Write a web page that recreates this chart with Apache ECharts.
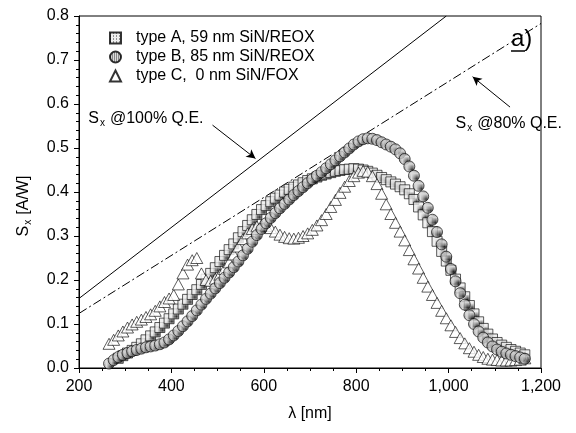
<!DOCTYPE html>
<html>
<head>
<meta charset="utf-8">
<script src="https://cdn.jsdelivr.net/npm/echarts@6/dist/echarts.min.js"></script>
<style>
  html, body { margin: 0; padding: 0; background: #fff; }
  #chart { width: 576px; height: 433px; }
</style>
</head>
<body>
<div id="chart"></div>
<script>
// wavelength [nm], responsivity S_x [A/W]
const typeA = [
  [285,0.022],[295,0.028],[305,0.034],[315,0.040],[325,0.047],[335,0.055],[345,0.064],[355,0.073],
  [365,0.082],[375,0.092],[385,0.102],[395,0.112],[405,0.123],[415,0.134],[425,0.145],[435,0.156],
  [445,0.167],[455,0.178],[465,0.190],[475,0.202],[485,0.215],[495,0.228],[505,0.242],[515,0.256],
  [525,0.269],[535,0.282],[545,0.296],[555,0.310],[565,0.324],[575,0.337],[585,0.349],[595,0.360],
  [605,0.369],[615,0.378],[625,0.386],[635,0.393],[645,0.400],[655,0.406],[665,0.411],[675,0.416],
  [685,0.421],[695,0.426],[705,0.430],[715,0.434],[725,0.438],[735,0.441],[745,0.444],[755,0.447],
  [765,0.449],[775,0.451],[785,0.452],[795,0.453],[805,0.452],[815,0.450],[825,0.447],[835,0.443],
  [845,0.438],[855,0.433],[865,0.428],[875,0.423],[885,0.418],[895,0.412],[905,0.405],[915,0.396],
  [925,0.383],[935,0.366],[945,0.348],[955,0.330],[965,0.310],[975,0.288],[985,0.265],[995,0.243],
  [1005,0.222],[1015,0.202],[1025,0.182],[1035,0.162],[1045,0.142],[1055,0.123],[1065,0.105],[1075,0.090],
  [1085,0.077],[1095,0.066],[1105,0.058],[1115,0.052],[1125,0.047],[1135,0.042],[1145,0.038],[1155,0.034],
  [1165,0.030]
];
const typeB = [
  [265,0.010],[275,0.018],[285,0.025],[295,0.030],[305,0.034],[315,0.038],[325,0.041],[335,0.044],
  [345,0.047],[355,0.049],[365,0.051],[375,0.054],[385,0.058],[395,0.065],[405,0.074],[415,0.084],
  [425,0.095],[435,0.106],[445,0.118],[455,0.131],[465,0.144],[475,0.157],[485,0.169],[495,0.181],
  [505,0.193],[515,0.205],[525,0.217],[535,0.229],[545,0.242],[555,0.256],[565,0.271],[575,0.287],
  [585,0.302],[595,0.316],[605,0.329],[615,0.341],[625,0.352],[635,0.363],[645,0.373],[655,0.383],
  [665,0.393],[675,0.402],[685,0.411],[695,0.420],[705,0.429],[715,0.437],[725,0.445],[735,0.454],
  [745,0.463],[755,0.472],[765,0.481],[775,0.490],[785,0.499],[795,0.508],[805,0.515],[815,0.520],
  [825,0.522],[835,0.521],[845,0.518],[855,0.513],[865,0.508],[875,0.503],[885,0.497],[895,0.488],
  [905,0.475],[915,0.458],[925,0.437],[935,0.414],[945,0.390],[955,0.364],[965,0.337],[975,0.309],
  [985,0.281],[995,0.253],[1005,0.225],[1015,0.197],[1025,0.170],[1035,0.144],[1045,0.120],[1055,0.100],
  [1065,0.083],[1075,0.069],[1085,0.058],[1095,0.049],[1105,0.042],[1115,0.037],[1125,0.033],[1135,0.030],
  [1145,0.027],[1155,0.024],[1165,0.021]
];
const typeC = [
  [265,0.055],[275,0.064],[285,0.074],[295,0.083],[305,0.092],[315,0.099],[325,0.105],[335,0.110],
  [345,0.116],[355,0.122],[365,0.130],[375,0.140],[385,0.150],[395,0.158],[405,0.166],[415,0.190],
  [425,0.215],[435,0.235],[445,0.245],[455,0.250],[465,0.215],[475,0.200],[485,0.198],[495,0.203],
  [505,0.212],[515,0.225],[525,0.240],[535,0.258],[545,0.276],[555,0.293],[565,0.306],[575,0.316],
  [585,0.322],[595,0.325],[605,0.323],[615,0.318],[625,0.310],[635,0.303],[645,0.298],[655,0.295],
  [665,0.294],[675,0.296],[685,0.300],[695,0.306],[705,0.314],[715,0.324],[725,0.336],[735,0.350],
  [745,0.366],[755,0.382],[765,0.398],[775,0.412],[785,0.425],[795,0.436],[805,0.444],[815,0.448],
  [825,0.446],[835,0.436],[845,0.418],[855,0.396],[865,0.372],[875,0.350],[885,0.330],[895,0.310],
  [905,0.290],[915,0.268],[925,0.247],[935,0.226],[945,0.205],[955,0.185],[965,0.166],[975,0.148],
  [985,0.130],[995,0.113],[1005,0.097],[1015,0.082],[1025,0.068],[1035,0.056],[1045,0.045],[1055,0.037],
  [1065,0.030],[1075,0.025],[1085,0.021],[1095,0.019],[1105,0.018],[1115,0.017],[1125,0.017],[1135,0.017],
  [1145,0.018],[1155,0.019],[1165,0.022]
];
// quantum efficiency reference lines (end points)
const qe100 = [[200,0.158],[995,0.8]];
const qe80 = [[200,0.124],[1200,0.783]];

const legendNames = ['type A, 59 nm SiN/REOX', 'type B, 85 nm SiN/REOX', 'type C,  0 nm SiN/FOX'];
const xTicks = [200, 400, 600, 800, 1000, 1200];

const font = 'Liberation Sans, Arial, sans-serif';

// stipple fills like the printed symbols
function dotPattern(size, bg) {
  const c = document.createElement('canvas');
  c.width = size; c.height = size;
  const g = c.getContext('2d');
  g.fillStyle = bg;
  g.fillRect(0, 0, size, size);
  g.fillStyle = '#000';
  g.fillRect(0, 0, 1, 1);
  return { image: c, repeat: 'repeat' };
}

const richS = {
  s: { fontSize: 16, fontFamily: font, color: '#000' },
  sub: { fontSize: 10, fontFamily: font, color: '#000', verticalAlign: 'bottom', padding: [9, 5, 0, 1] },
  pad: { width: 28 }
};

const chart = echarts.init(document.getElementById('chart'), null, { renderer: 'canvas' });

const option = {
  backgroundColor: '#fff',
  animation: false,
  textStyle: { fontFamily: font, color: '#000' },
  grid: {
    left: 79, right: 35, top: 16, bottom: 65,
    show: true, borderColor: '#000', borderWidth: 1
  },
  legend: {
    orient: 'vertical',
    left: 104, top: 25,
    itemGap: 3,
    itemWidth: 11, itemHeight: 11,
    data: legendNames,
    textStyle: { fontFamily: font, fontSize: 16, color: '#000', padding: [0, 0, 0, 10] },
    selectedMode: false
  },
  xAxis: {
    type: 'value',
    min: 200, max: 1200, interval: 200,
    name: 'λ [nm]',
    nameLocation: 'middle',
    nameGap: 38,
    nameTextStyle: { fontFamily: font, fontSize: 16, color: '#000' },
    axisLine: { lineStyle: { color: '#000', width: 1 } },
    axisTick: { show: true, length: 5, lineStyle: { color: '#000' } },
    minorTick: { show: true, splitNumber: 4, length: 3, lineStyle: { color: '#000' } },
    splitLine: { show: false },
    axisLabel: {
      fontFamily: font, fontSize: 16, color: '#000', margin: 11,
      formatter: v => xTicks.includes(v) ? v.toLocaleString('en-US') : ''
    }
  },
  yAxis: {
    type: 'value',
    min: 0, max: 0.8, interval: 0.1,
    name: '{s|S}{sub|x}{s|[A/W]}{pad|}',
    nameLocation: 'middle',
    nameGap: 46,
    nameRotate: 90,
    nameTextStyle: { fontFamily: font, color: '#000', rich: richS },
    axisLine: { show: true, lineStyle: { color: '#000', width: 1 } },
    axisTick: { show: true, length: 5, lineStyle: { color: '#000' } },
    minorTick: { show: true, splitNumber: 5, length: 3, lineStyle: { color: '#000' } },
    splitLine: { show: false },
    axisLabel: {
      fontFamily: font, fontSize: 16, color: '#000', margin: 10,
      formatter: v => v.toFixed(1)
    }
  },
  series: [
    {
      name: 'S100',
      type: 'line',
      data: qe100,
      symbol: 'none',
      lineStyle: { color: '#000', width: 1 },
      z: 1,
      markLine: {
        silent: true,
        symbol: ['none', 'arrow'],
        symbolSize: [7, 9],
        lineStyle: { color: '#000', width: 1, type: 'solid' },
        label: { show: false },
        data: [[{ coord: [489, 0.552] }, { coord: [582, 0.476] }]]
      },
      markPoint: {
        silent: true,
        symbol: 'rect', symbolSize: 1,
        itemStyle: { color: 'transparent' },
        label: {
          show: true, position: 'right', distance: 0,
          formatter: '{s|S}{sub|x}{s|@100% Q.E.}',
          rich: richS
        },
        data: [{ coord: [219, 0.566] }]
      }
    },
    {
      name: 'S80',
      type: 'line',
      data: qe80,
      symbol: 'none',
      lineStyle: { color: '#000', width: 1, type: [9, 3, 2, 3] },
      z: 1,
      markLine: {
        silent: true,
        symbol: ['none', 'arrow'],
        symbolSize: [7, 9],
        lineStyle: { color: '#000', width: 1, type: 'solid' },
        label: { show: false },
        data: [[{ coord: [1133, 0.593] }, { coord: [1052, 0.662] }]]
      },
      markPoint: {
        silent: true,
        symbol: 'rect', symbolSize: 1,
        itemStyle: { color: 'transparent' },
        label: {
          show: true, position: 'right', distance: 0,
          formatter: '{s|S}{sub|x}{s|@80% Q.E.}',
          rich: richS
        },
        data: [{ coord: [1014, 0.556] }]
      }
    },
    {
      name: legendNames[0],
      type: 'scatter',
      data: typeA,
      symbol: 'rect',
      symbolSize: 10,
      itemStyle: { color: dotPattern(3, '#ececec'), borderColor: '#000', borderWidth: 0.8 },
      z: 2
    },
    {
      name: legendNames[2],
      type: 'scatter',
      data: typeC,
      symbol: 'triangle',
      symbolSize: [12, 11],
      itemStyle: { color: '#fff', borderColor: '#000', borderWidth: 0.8 },
      z: 3
    },
    {
      name: legendNames[1],
      type: 'scatter',
      data: typeB,
      symbol: 'circle',
      symbolSize: 11,
      itemStyle: { color: dotPattern(2, '#d4d4d4'), borderColor: '#000', borderWidth: 0.8 },
      z: 4
    }
  ],
  graphic: [
    {
      type: 'text',
      left: 511, top: 27,
      style: { text: 'a)', font: '24px ' + font, fill: '#000' }
    },
    {
      type: 'line',
      shape: { x1: 511, y1: 51, x2: 525, y2: 51 },
      style: { stroke: '#000', lineWidth: 1.5 }
    }
  ]
};

chart.setOption(option);
</script>
</body>
</html>
